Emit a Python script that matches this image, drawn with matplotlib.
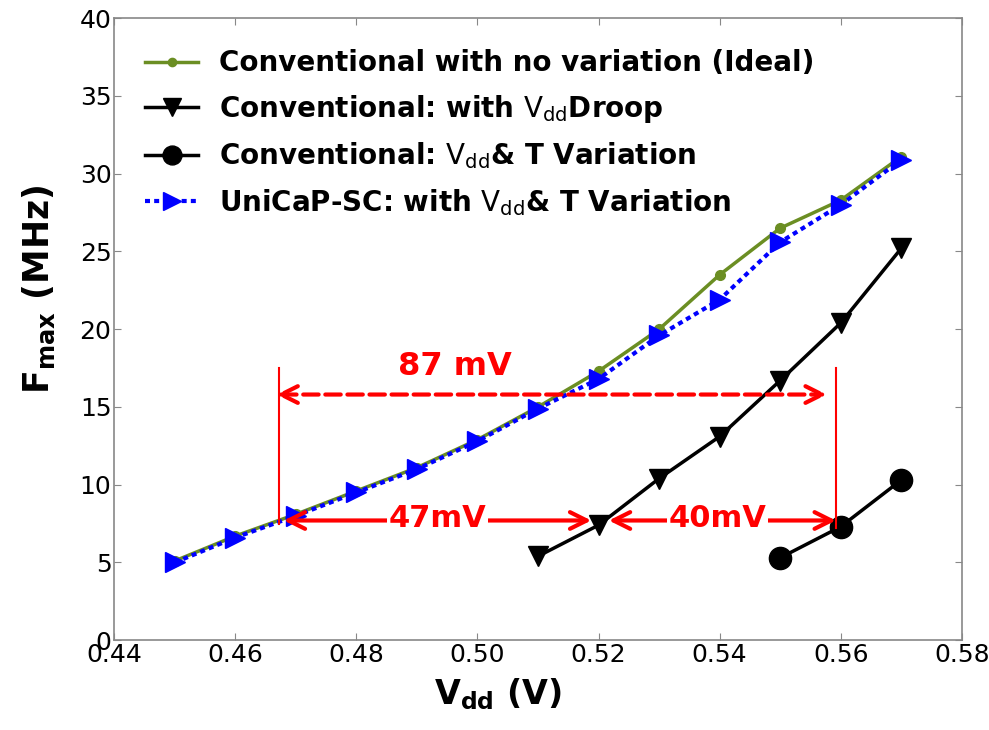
import matplotlib
matplotlib.use("Agg")
import matplotlib.pyplot as plt

# Supply voltage sweep (V)
vdd = [0.45, 0.46, 0.47, 0.48, 0.49, 0.50, 0.51, 0.52, 0.53, 0.54, 0.55, 0.56, 0.57]
# Fmax (MHz) for each configuration
f_ideal = [5.1, 6.7, 8.1, 9.6, 11.1, 12.9, 15.0, 17.3, 20.0, 23.5, 26.5, 28.3, 31.1]
f_unicap = [5.0, 6.6, 8.0, 9.5, 11.0, 12.8, 14.9, 16.8, 19.6, 21.9, 25.6, 28.0, 30.9]
vdd_droop = [0.51, 0.52, 0.53, 0.54, 0.55, 0.56, 0.57]
f_droop = [5.4, 7.4, 10.4, 13.1, 16.7, 20.4, 25.2]
vdd_vt = [0.55, 0.56, 0.57]
f_vt = [5.3, 7.3, 10.3]

labels = [
    "Conventional with no variation (Ideal)",
    r"Conventional: with $\mathrm{V_{dd}}$Droop",
    r"Conventional: $\mathrm{V_{dd}}$& T Variation",
    r"UniCaP-SC: with $\mathrm{V_{dd}}$& T Variation",
]

plt.rcParams["mathtext.fontset"] = "dejavusans"

fig = plt.figure(figsize=(9.89, 7.30), dpi=100)
ax = fig.add_axes([0.1155, 0.123, 0.857, 0.852])

ax.plot(vdd, f_ideal, color="#6b8e23", lw=2.5, marker="o", ms=7, mec="#6b8e23",
        label=labels[0], zorder=3)
ax.plot(vdd_droop, f_droop, color="black", lw=2.5, marker="v", ms=15,
        label=labels[1], zorder=3)
ax.plot(vdd_vt, f_vt, color="black", lw=2.5, marker="o", ms=16,
        label=labels[2], zorder=3)
ax.plot(vdd, f_unicap, color="blue", lw=3, ls=(0, (1.2, 1.0)), marker=">", ms=15,
        label=labels[3], zorder=4)

ax.set_xlim(0.44, 0.58)
ax.set_ylim(0, 40)
ax.set_xticks([0.44, 0.46, 0.48, 0.50, 0.52, 0.54, 0.56, 0.58])
ax.set_xticklabels(["0.44", "0.46", "0.48", "0.50", "0.52", "0.54", "0.56", "0.58"])
ax.set_yticks(range(0, 41, 5))
ax.tick_params(direction="in", length=5, width=0.8, color="#888888",
               top=True, right=True, labelsize=18, pad=2)
for s in ax.spines.values():
    s.set_color("#888888")
    s.set_linewidth(1.2)

ax.set_xlabel(r"$\mathbf{V_{dd}}$ (V)", fontsize=24, fontweight="bold")
ax.set_ylabel(r"$\mathbf{F_{max}}$ (MHz)", fontsize=25, fontweight="bold")
ax.xaxis.set_label_coords(0.452, -0.058)
ax.yaxis.set_label_coords(-0.068, 0.564)

ax.legend(loc="upper left", frameon=False, handlelength=1.9,
          handletextpad=0.75, labelspacing=0.56, borderaxespad=0.72,
          markerscale=0.85, prop={"weight": "bold", "size": 20})

red = "#ff0000"
# reference verticals
ax.plot([0.4672, 0.4672], [7.5, 17.5], color=red, lw=1.5, zorder=5)
ax.plot([0.5592, 0.5592], [7.2, 17.5], color=red, lw=1.5, zorder=5)

# 87 mV span
ax.annotate("", xy=(0.5577, 15.8), xytext=(0.4668, 15.8),
            arrowprops=dict(arrowstyle="<->", color=red, lw=3, ls="--",
                            mutation_scale=30, shrinkA=0, shrinkB=0), zorder=6)
ax.text(0.4962, 17.6, "87 mV", color=red, fontsize=23, fontweight="bold",
        ha="center", va="center", zorder=6)

# 47 mV and 40 mV spans
y_arr = 7.7
ax.annotate("", xy=(0.5188, y_arr), xytext=(0.4680, y_arr),
            arrowprops=dict(arrowstyle="<->", color=red, lw=3,
                            mutation_scale=30, shrinkA=0, shrinkB=0), zorder=6)
ax.annotate("", xy=(0.5592, y_arr), xytext=(0.5217, y_arr),
            arrowprops=dict(arrowstyle="<->", color=red, lw=3,
                            mutation_scale=30, shrinkA=0, shrinkB=0), zorder=6)
for xc, txt in [(0.4934, "47mV"), (0.5397, "40mV")]:
    ax.text(xc, y_arr + 0.1, txt, color=red, fontsize=22, fontweight="bold",
            ha="center", va="center", zorder=7,
            bbox=dict(facecolor="white", edgecolor="none", pad=1))

fig.savefig("out.png", dpi=100)
